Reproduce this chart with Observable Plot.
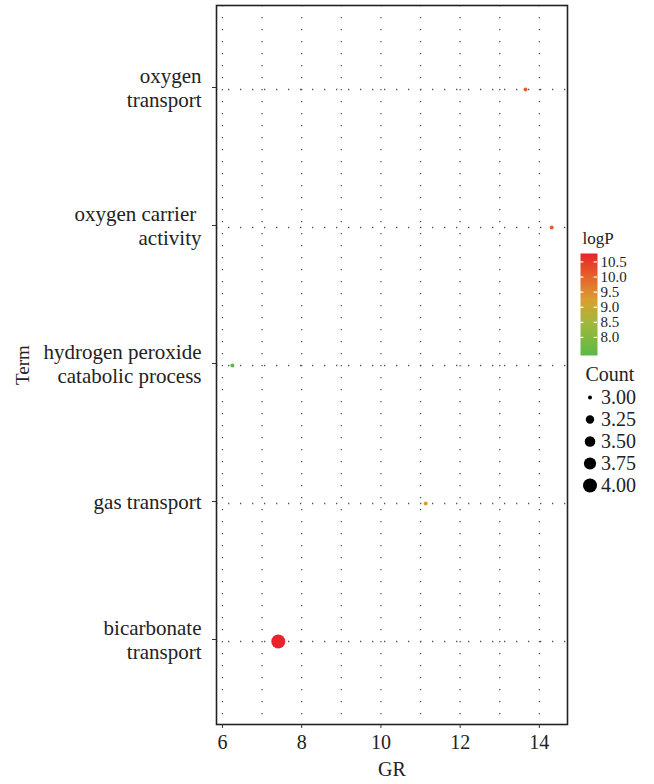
<!DOCTYPE html>
<html>
<head>
<meta charset="utf-8">
<script src="https://cdn.jsdelivr.net/npm/d3@7"></script>
<script src="https://cdn.jsdelivr.net/npm/@observablehq/plot@0.6"></script>
<style>
  html, body { margin: 0; padding: 0; background: white; }
  #wrap { position: relative; width: 654px; height: 784px; font-family: "Liberation Serif", serif; }
  #wrap > div { position: absolute; line-height: 0; }
</style>
</head>
<body>
<div id="wrap">
  <div id="main" style="left:0;top:0"></div>
  <div id="legColor" style="left:570px;top:220px"></div>
  <div id="legSize" style="left:570px;top:355px"></div>
</div>
<script>
// ---- data ----
const terms = ["oxygen transport", "oxygen carrier activity", "hydrogen peroxide catabolic process", "gas transport", "bicarbonate transport"];
const termLabels = ["oxygen\ntransport", "oxygen carrier \nactivity", "hydrogen peroxide\ncatabolic process", "gas transport", "bicarbonate\ntransport"];
const gr = [13.65, 14.31, 6.25, 11.13, 7.41];
const logP = [10.0, 10.05, 7.4, 9.25, 10.78];
const count = [3, 3, 3, 3, 4];
const xTicks = [6, 8, 10, 12, 14];
const xGrid = [6, 7, 8, 9, 10, 11, 12, 13, 14];
const colorTicks = [8.0, 8.5, 9.0, 9.5, 10.0, 10.5];
const sizeBreaks = [3.00, 3.25, 3.50, 3.75, 4.00];
// colour ramp
const rampValues = [7.4, 8.5, 9.25, 10.0, 10.78];
const rampColors = ["#5bb947", "#a3b83a", "#d9a030", "#e6632a", "#e8232a"];

const data = terms.map((t, i) => ({term: t, label: termLabels[i], gr: gr[i], logP: logP[i], count: count[i]}));
const labelOf = new Map(terms.map((t, i) => [t, termLabels[i]]));

const font = "Liberation Serif";
const colorOpts = {type: "linear", domain: rampValues, range: rampColors, interpolate: d3.interpolateRgb};
const rOpts = {type: "linear", domain: sizeBreaks, range: [2, 4.2, 5.3, 6.1, 7]};

const main = Plot.plot({
  width: 654, height: 784,
  marginLeft: 216, marginRight: 87, marginTop: 5, marginBottom: 60,
  style: {fontFamily: font, fontSize: "20px", color: "#222", background: "white"},
  x: {domain: [5.85, 14.71], label: null},
  y: {type: "point", domain: terms, padding: 0.6, label: null},
  color: colorOpts,
  r: rOpts,
  marks: [
    Plot.ruleX(xGrid, {stroke: "#555", strokeWidth: 1.3, strokeDasharray: "1.3,10.7"}),
    Plot.ruleY(terms, {stroke: "#555", strokeWidth: 1.3, strokeDasharray: "1.3,10.7"}),
    Plot.dot(data, {x: "gr", y: "term", r: "count", fill: "logP", stroke: null}),
    Plot.frame({stroke: "#222", strokeWidth: 1.6}),
    Plot.axisX({ticks: xTicks, tickSize: 4, tickPadding: 6, fontSize: 20, label: null, stroke: "#333"}),
    Plot.axisY({tickSize: 4, tickPadding: 11, fontSize: 21, lineHeight: 1.15, dy: -2, label: null, stroke: "#333",
      tickFormat: d => labelOf.get(d)}),
    Plot.text(["GR"], {frameAnchor: "bottom", lineAnchor: "middle", dy: 45, fontSize: 20, fill: "#222"}),
    Plot.text(["Term"], {frameAnchor: "left", lineAnchor: "middle", dx: -194, dy: 20, rotate: -90, fontSize: 19, fill: "#222"})
  ]
});
document.getElementById("main").appendChild(main);

// ---- color legend ----
const cmin = d3.min(rampValues), cmax = d3.max(rampValues);
const legC = Plot.plot({
  width: 84, height: 140, margin: 0,
  style: {fontFamily: font, fontSize: "15px", color: "#222", background: "transparent"},
  x: {domain: [0, 1], range: [10, 27], axis: null},
  y: {domain: [cmin, cmax], range: [135, 33], axis: null},
  color: colorOpts,
  marks: [
    Plot.raster({x1: 0, x2: 1, y1: cmin, y2: cmax, width: 1, height: 200, fill: (x, y) => y, imageRendering: "auto"}),
    Plot.ruleY(colorTicks, {x1: 0, x2: 0.2, stroke: "white", strokeWidth: 1.2}),
    Plot.ruleY(colorTicks, {x1: 0.8, x2: 1, stroke: "white", strokeWidth: 1.2}),
    Plot.text(colorTicks, {x: 1, y: d => d, dx: 3, textAnchor: "start", lineAnchor: "middle", text: d => d.toFixed(1), fontSize: 15, fill: "#222"}),
    Plot.text(["logP"], {frameAnchor: "top-left", lineAnchor: "middle", dx: 12, dy: 18, textAnchor: "start", fontSize: 17, fill: "#222"})
  ]
});
document.getElementById("legColor").appendChild(legC);

// ---- size legend ----
const legS = Plot.plot({
  width: 84, height: 145, margin: 0,
  style: {fontFamily: font, fontSize: "20px", color: "#222", background: "transparent"},
  x: {domain: [0, 1], range: [19.5, 40], axis: null},
  y: {type: "point", domain: sizeBreaks, range: [41, 130], padding: 0, axis: null},
  r: rOpts,
  marks: [
    Plot.dot(sizeBreaks, {x: 0, y: d => d, r: d => d, fill: "black"}),
    Plot.text(sizeBreaks, {x: 0, y: d => d, dx: 11, textAnchor: "start", lineAnchor: "middle", text: d => d.toFixed(2), fontSize: 20, fill: "#222"}),
    Plot.text(["Count"], {frameAnchor: "top-left", lineAnchor: "middle", dx: 15, dy: 19, textAnchor: "start", fontSize: 20, fill: "#222"})
  ]
});
document.getElementById("legSize").appendChild(legS);
</script>
</body>
</html>
